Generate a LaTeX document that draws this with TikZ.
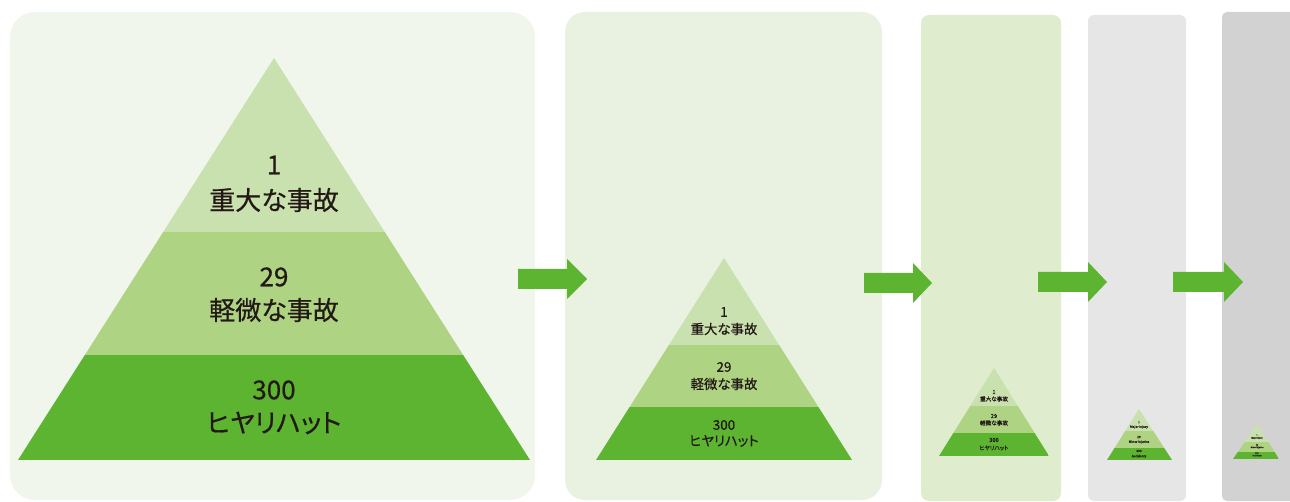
\documentclass[tikz,border=0pt]{standalone}
\usepackage{fontspec}
\setmainfont{Noto Sans CJK JP}[RawFeature={+palt}, FakeBold=0.5]
\definecolor{txt}{HTML}{231815}
\definecolor{bandA}{HTML}{C9E1AE}
\definecolor{bandB}{HTML}{ADD383}
\definecolor{bandC}{HTML}{5CB431}
\definecolor{panA}{HTML}{F1F6EC}
\definecolor{panB}{HTML}{E9F2E0}
\definecolor{panC}{HTML}{DFECCE}
\definecolor{panD}{HTML}{E6E6E6}
\definecolor{panE}{HTML}{D2D2D2}
\tikzset{
  lbl/.style={inner sep=0pt, anchor=center, text=txt, font=\fontsize{#1}{#1}\selectfont},
  flow/.style={fill=bandC, draw=none},
}
% pyramid: apex x, apex y, left x, right x, base y, band1 y, band2 y
\newcommand{\pyr}[7]{%
  \begin{scope}
    \clip (#1,#2) -- (#3,#5) -- (#4,#5) -- cycle;
    \fill[bandA] (#3,#2) rectangle (#4,#6);
    \fill[bandB] (#3,#6) rectangle (#4,#7);
    \fill[bandC] (#3,#7) rectangle (#4,#5);
  \end{scope}}
% arrow: start x, head base x, tip x, center y
\newcommand{\flowarrow}[4]{%
  \fill[flow] (#1,#4-10) -- (#2,#4-10) -- (#2,#4-20) -- (#3,#4) -- (#2,#4+20) -- (#2,#4+10) -- (#1,#4+10) -- cycle;}
\begin{document}
\begin{tikzpicture}[x=1pt,y=-1pt]
\useasboundingbox (0,0) rectangle (1290,502);
\begin{scope}
\clip (0,0) rectangle (1290,502);
% panels
\fill[panA, rounded corners=25pt] (10,12) rectangle (535,500);
\fill[panB, rounded corners=20pt] (565,12) rectangle (882,500);
\fill[panC, rounded corners=8pt] (921,15) rectangle (1061,501);
\fill[panD, rounded corners=6pt] (1088,15) rectangle (1186,501);
\fill[panE, rounded corners=5pt] (1222,12) rectangle (1300,501);

% pyramid 1
\pyr{274}{58}{18}{530}{460}{232}{355}
\node[lbl=26] (p1a) at (274,165) {1};
\node[lbl=26] (p1b) at (274,200) {重大な事故};
\node[lbl=26] (p1c) at (274,277) {29};
\node[lbl=26] (p1d) at (274,310) {軽微な事故};
\node[lbl=26] (p1e) at (274,390) {300};
\node[lbl=26] (p1f) at (274,423) {ヒヤリハット};

% pyramid 2
\pyr{724}{258}{596}{852}{460}{345}{407}
\node[lbl=13.4] (p2a) at (724,312) {1};
\node[lbl=13.4] (p2b) at (724,329) {重大な事故};
\node[lbl=13.4] (p2c) at (724,367) {29};
\node[lbl=13.4] (p2d) at (724,384) {軽微な事故};
\node[lbl=13.4] (p2e) at (724,425) {300};
\node[lbl=13.4] (p2f) at (724,441) {ヒヤリハット};

% pyramid 3
\pyr{994}{368}{939}{1049}{456}{406}{433}
\node[lbl=5.6] (p3a) at (994,392) {1};
\node[lbl=5.6] (p3b) at (994,399) {重大な事故};
\node[lbl=5.6] (p3c) at (994,416) {29};
\node[lbl=5.6] (p3d) at (994,423) {軽微な事故};
\node[lbl=5.6] (p3e) at (994,440) {300};
\node[lbl=5.6] (p3f) at (994,448) {ヒヤリハット};

% pyramid 4
\pyr{1139}{409}{1107}{1172}{460}{431}{448}
\node[lbl=3.2] (p4a) at (1139,422) {1};
\node[lbl=3.2] (p4b) at (1139,427) {Major injury};
\node[lbl=3.2] (p4c) at (1139,437) {29};
\node[lbl=3.2] (p4d) at (1139,442) {Minor injuries};
\node[lbl=3.2] (p4e) at (1139,451) {300};
\node[lbl=3.2] (p4f) at (1139,456) {Accidents};

% pyramid 5
\pyr{1257}{424}{1233}{1279}{459}{442}{452}
\node[lbl=2] (p5a) at (1257,435) {1};
\node[lbl=2] (p5b) at (1257,438) {Major injury};
\node[lbl=2] (p5c) at (1257,445) {29};
\node[lbl=2] (p5d) at (1257,447.5) {Minor injuries};
\node[lbl=2] (p5e) at (1257,453) {300};
\node[lbl=2] (p5f) at (1257,455.5) {Accidents};

% arrows
\flowarrow{518}{567}{587}{279}
\flowarrow{864}{913}{932}{283}
\flowarrow{1038}{1088}{1107}{282}
\flowarrow{1173}{1224}{1243}{282}
\end{scope}
\end{tikzpicture}
\end{document}
